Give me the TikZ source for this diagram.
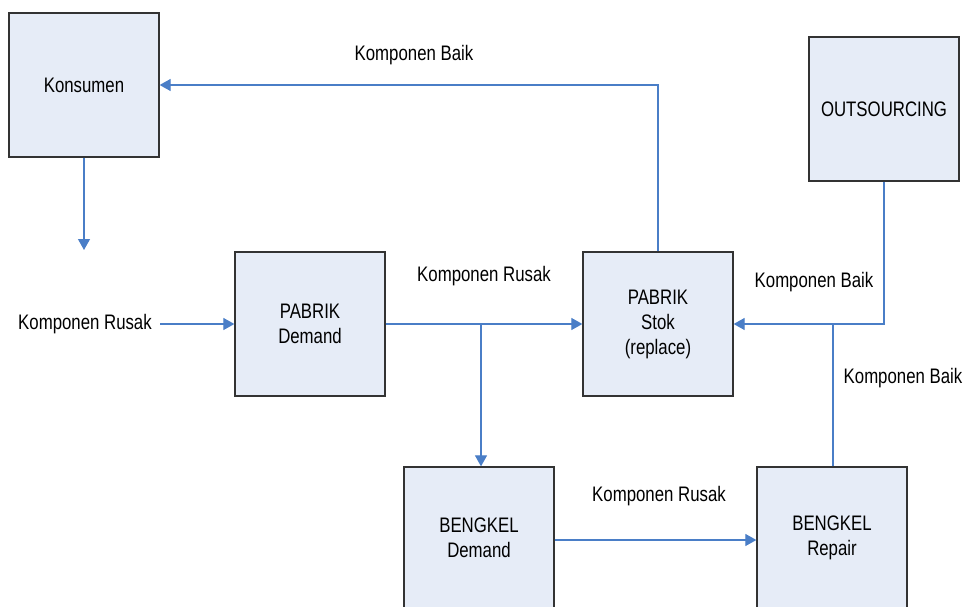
\documentclass[tikz,border=0pt]{standalone}
\usepackage{fontspec}
\setmainfont[FakeStretch=0.8]{Liberation Sans}
\usetikzlibrary{arrows.meta}
\definecolor{boxfill}{HTML}{E6ECF7}
\definecolor{boxline}{HTML}{333333}
\definecolor{flow}{HTML}{4A7EC7}
\begin{document}
\begin{tikzpicture}[x=1pt,y=-1pt,
  box/.style={draw=boxline,line width=1.3pt,fill=boxfill,minimum width=150pt,minimum height=144pt,inner sep=0pt,align=center,font=\fontsize{21}{25}\selectfont},
  lbl/.style={inner sep=0pt,font=\fontsize{21}{25}\selectfont},
  conn/.style={draw=flow,line width=1.2pt},
  arr/.style={conn,-{Triangle[length=11pt,width=12pt]}}]
\useasboundingbox (0,0) rectangle (966,607);
\clip (0,0) rectangle (966,607);
\node[box] (kon) at (84,85) {Konsumen};
\node[box] (out) at (884,109) {OUTSOURCING};
\node[box] (pd) at (310,324) {PABRIK\\Demand};
\node[box] (ps) at (658,324) {PABRIK\\Stok\\(replace)};
\node[box,minimum height=142pt] (bd) at (479,538) {BENGKEL\\Demand};
\node[box,minimum height=142pt] (br) at (832,538) {BENGKEL\\Repair};

\node[lbl] (l1) at (85,324) {Komponen Rusak};
\node[lbl] (l2) at (484,276) {Komponen Rusak};
\node[lbl] (l3) at (414,55) {Komponen Baik};
\node[lbl] (l4) at (814,282) {Komponen Baik};
\node[lbl] (l5) at (903,378) {Komponen Baik};
\node[lbl] (l6) at (659,496) {Komponen Rusak};

\coordinate (kdown) at (84,250);
\coordinate (lin) at (160,324);
\coordinate (split) at (481,324);
\coordinate (join) at (833,324);

\draw[arr] (kon.south) -- (kdown);
\draw[arr] (lin) -- (pd.west);
\draw[arr] (pd.east) -- (ps.west);
\draw[arr] (split) -- (split |- bd.north);
\draw[arr] (ps.north) |- (kon.east);
\draw[arr] (out.south) |- (ps.east);
\draw[conn] (br.north -| join) -- (join);
\draw[arr] (bd.east |- 0,540) -- (br.west |- 0,540);
\end{tikzpicture}
\end{document}
